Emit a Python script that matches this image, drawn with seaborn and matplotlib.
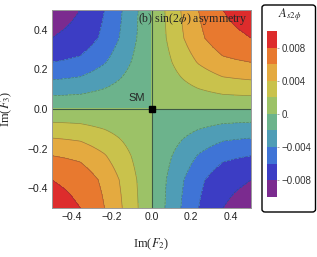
import numpy as np
import matplotlib
matplotlib.use("Agg")
import matplotlib.pyplot as plt
import seaborn as sns
from matplotlib.patches import FancyBboxPatch
from matplotlib.ticker import MultipleLocator, FixedLocator

# asymmetry read along the plot edge (|Im F| = 0.5): position of each contour crossing
edge_pos = [0.0, 0.067, 0.147, 0.236, 0.358, 0.43, 0.5]
edge_asym = [0.0, 0.002, 0.004, 0.006, 0.008, 0.0084, 0.0087]

levels = [-0.010, -0.008, -0.006, -0.004, -0.002, 0.0,
          0.002, 0.004, 0.006, 0.008, 0.010]
band_colors = ["#7b2b8f", "#3c3dc4", "#3f74d6", "#4f9db6", "#6cb38c",
               "#9cc267", "#c9c24c", "#e4aa40", "#e8792f", "#dd2c2c"]
cbar_ticks = [0.008, 0.004, 0.0, -0.004, -0.008]
cbar_labels = ["0.008", "0.004", "0.", "\u22120.004", "\u22120.008"]
axis_ticks = [-0.4, -0.2, 0.0, 0.2, 0.4]
tick_labels = ["\u22120.4", "\u22120.2", "0.0", "0.2", "0.4"]

sns.set_style("ticks")
plt.rcParams["font.family"] = ["Liberation Sans", "DejaVu Sans"]
plt.rcParams["font.serif"] = ["Liberation Serif"]
plt.rcParams["mathtext.fontset"] = "stix"

# field on the Im(F2)-Im(F3) plane, built from the edge profile
grid = np.linspace(-0.5, 0.5, 401)
prof = np.sign(grid) * np.interp(np.abs(grid), edge_pos, edge_asym)
X, Y = np.meshgrid(grid, grid)
A = np.outer(prof, prof) / edge_asym[-1]

palette = sns.color_palette(band_colors)

fig = plt.figure(figsize=(3.17, 2.57), dpi=100)
ax = fig.add_axes([0.164, 0.191, 0.628, 0.770])
cf = ax.contourf(X, Y, A, levels=levels, colors=palette)
ax.contour(X, Y, A, levels=[l for l in levels if l != 0.0], colors="#3a4a3a",
           linewidths=0.5, alpha=0.45)
ax.axhline(0, color="#3e5a44", lw=0.8)
ax.axvline(0, color="#3e5a44", lw=0.8)
ax.plot([0], [0], marker="s", color="k", ms=5)
ax.text(-0.073, 0.056, "SM", fontsize=8, ha="center", va="center")
ax.text(0.485, 0.455, r"(b) sin(2$\phi$) asymmetry", fontsize=8.6,
        family="serif", ha="right", va="center")

ax.set_xlim(-0.5, 0.5)
ax.set_ylim(-0.5, 0.5)
ax.xaxis.set_major_locator(FixedLocator(axis_ticks))
ax.yaxis.set_major_locator(FixedLocator(axis_ticks))
ax.xaxis.set_minor_locator(MultipleLocator(0.05))
ax.yaxis.set_minor_locator(MultipleLocator(0.05))
ax.set_xticklabels(tick_labels)
ax.set_yticklabels(tick_labels)
ax.tick_params(which="both", direction="in", top=True, right=True,
               colors="#888888", labelcolor="#222222", labelsize=7.5, width=0.6)
ax.tick_params(which="major", length=4, pad=3)
ax.tick_params(which="minor", length=2)
for s in ax.spines.values():
    s.set_color("#999999")
    s.set_linewidth(0.7)
ax.set_xlabel(r"Im($F_2$)", family="serif", fontsize=9)
ax.set_ylabel(r"Im($F_3$)", family="serif", fontsize=9)
ax.xaxis.set_label_coords(0.5, -0.145)
ax.yaxis.set_label_coords(-0.19, 0.5)

# legend box with the bar
fig.patches.append(FancyBboxPatch((262 / 317, 45 / 257), 53.5 / 317, 207 / 257,
                                  boxstyle="round,pad=0,rounding_size=0.01",
                                  transform=fig.transFigure, fill=False,
                                  ec="black", lw=1.0))
cax = fig.add_axes([267 / 317, 60.3 / 257, 9.5 / 317, 165.7 / 257])
cb = fig.colorbar(cf, cax=cax, ticks=cbar_ticks)
cb.ax.set_yticklabels(cbar_labels)
cb.outline.set_visible(False)
cb.ax.tick_params(length=1.5, width=0.5, colors="#888888", labelcolor="#333333",
                  labelsize=7, pad=2)
fig.text(289.5 / 317, 1 - 15 / 257, r"$A_{s2\phi}$", fontsize=9,
         ha="center", va="center")

fig.savefig("out.png", dpi=100)
